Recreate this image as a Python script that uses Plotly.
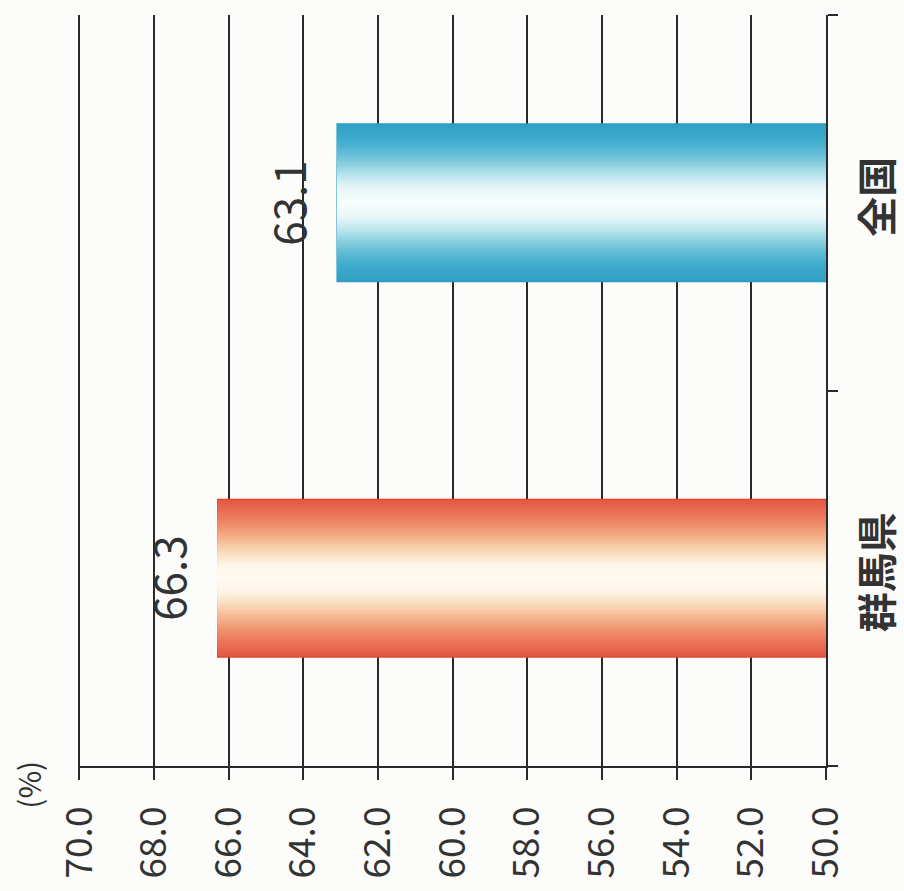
import plotly.graph_objects as go

# ---- data ----
categories = ["群馬県", "全国"]
values = [66.3, 63.1]
value_labels = ["66.3", "63.1"]
tick_values = [50.0, 52.0, 54.0, 56.0, 58.0, 60.0, 62.0, 64.0, 66.0, 68.0, 70.0]
tick_labels = ["50.0", "52.0", "54.0", "56.0", "58.0", "60.0", "62.0", "64.0", "66.0", "68.0", "70.0"]
unit_label = "(%)"

# gradient stops: (distance from bar centre 0..1, colour)
red_stops = [(0.0, (255, 252, 245)), (0.2, (253, 244, 228)), (0.35, (249, 218, 186)),
             (0.5, (245, 185, 145)), (0.65, (240, 150, 115)), (0.8, (235, 120, 92)), (1.0, (228, 90, 68))]
blue_stops = [(0.0, (250, 254, 254)), (0.2, (232, 246, 248)), (0.35, (190, 230, 238)),
              (0.5, (140, 208, 224)), (0.65, (95, 188, 214)), (0.8, (65, 172, 205)), (1.0, (48, 160, 196))]
stops_by_cat = [red_stops, blue_stops]
edge_line = ["#e8402a", "#2a9cc0"]

BAR_W = 0.42
N_LAYERS = 30
FONT = "Noto Sans CJK JP, Liberation Sans, Arial, sans-serif"
TXT = "#333333"


def colour_at(stops, d):
    for (d0, c0), (d1, c1) in zip(stops[:-1], stops[1:]):
        if d0 <= d <= d1:
            t = 0 if d1 == d0 else (d - d0) / (d1 - d0)
            return "rgb(%d,%d,%d)" % tuple(round(a + (b - a) * t) for a, b in zip(c0, c1))
    return "rgb(%d,%d,%d)" % stops[-1][1]


fig = go.Figure()
for i, cat in enumerate(categories):
    for k in range(N_LAYERS):
        d = 1 - k / N_LAYERS
        fig.add_trace(go.Bar(
            y=[cat], x=[values[i]], orientation="h", width=BAR_W * d,
            marker=dict(color=colour_at(stops_by_cat[i], d),
                        line=dict(width=1.2 if k == 0 else 0, color=edge_line[i])),
            showlegend=False, hoverinfo="skip",
        ))

for i, cat in enumerate(categories):
    fig.add_annotation(x=values[i], y=cat, text=value_labels[i], showarrow=False,
                       textangle=-90, xanchor="right", xshift=-16,
                       font=dict(family=FONT, size=44, color=TXT))

fig.add_annotation(xref="paper", yref="paper", x=-0.067, y=-0.025, text=unit_label,
                   xanchor="center", yanchor="middle",
                   showarrow=False, textangle=-90, font=dict(family=FONT, size=30, color=TXT))

fig.update_layout(
    width=904, height=891,
    margin=dict(l=78, r=78, t=15, b=125),
    paper_bgcolor="#fcfcfa", plot_bgcolor="#fcfcfa",
    barmode="overlay",
    xaxis=dict(range=[70.04, 50], tickvals=tick_values, ticktext=tick_labels, tickangle=-90,
               automargin=False,
               showgrid=True, gridcolor="#2a2a2a", gridwidth=1.5, zeroline=False,
               showline=True, linecolor="#2a2a2a", linewidth=1.5,
               ticks="outside", ticklen=12, tickwidth=1.5, tickcolor="#2a2a2a",
               ticklabelstandoff=12,
               tickfont=dict(family=FONT, size=37, color=TXT)),
    yaxis=dict(side="right", categoryorder="array", categoryarray=categories,
               automargin=False,
               range=[-0.5, 1.5], showgrid=False, zeroline=False,
               showline=True, linecolor="#2a2a2a", linewidth=1.5,
               ticks="outside", tickson="boundaries", ticklen=10, tickwidth=1.5, tickcolor="#2a2a2a",
               tickangle=-90, ticklabelstandoff=16,
               tickfont=dict(family=FONT, size=40, color=TXT, weight="bold")),
)

fig.write_html("out.html")
